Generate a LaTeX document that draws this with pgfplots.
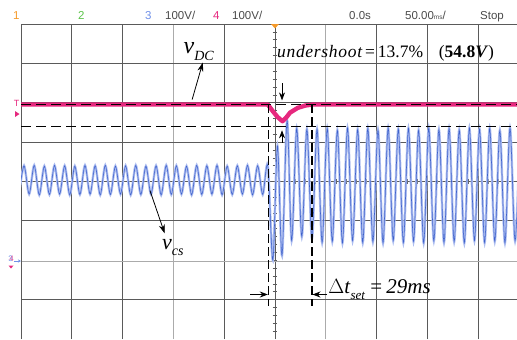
\documentclass[border=0pt]{standalone}
\usepackage{pgfplots}
\pgfplotsset{compat=1.18}
\usepackage{fontspec}
\setmainfont{Liberation Serif}
\setsansfont{Liberation Sans}
\usetikzlibrary{arrows.meta}
\definecolor{gridd}{HTML}{5A5A5A}
\definecolor{gridl}{HTML}{ABABAB}
\definecolor{pinkc}{HTML}{E6287E}
\definecolor{bluedark}{HTML}{3F62CC}
\definecolor{bluelight}{HTML}{AEBEF0}
\definecolor{orangec}{HTML}{F59A2A}
\definecolor{greenc}{HTML}{5CC44A}
\definecolor{blue3}{HTML}{7090E8}
\definecolor{txtg}{HTML}{4A4A4A}
\begin{document}
\begin{tikzpicture}[x=1bp,y=1bp]
\path[use as bounding box] (-21,0) rectangle (496,339);
\begin{axis}[at={(0,0)}, anchor=south west, scale only axis,
  width=496bp, height=315bp, xmin=-5, xmax=4.768, ymin=-4, ymax=4,
  axis lines=none, ticks=none, clip=true]
% grid
\pgfplotsinvokeforeach{-4,-3,-1,0,2,3,4}{\draw[gridd, line width=0.8bp] (axis cs:#1,-4) -- (axis cs:#1,4);}
\pgfplotsinvokeforeach{-2,1}{\draw[gridl, line width=1.6bp] (axis cs:#1,-4) -- (axis cs:#1,4);}
\pgfplotsinvokeforeach{-3,-1,0,1,2,3}{\draw[gridd, line width=0.8bp] (axis cs:-5,#1) -- (axis cs:4.8,#1);}
\draw[gridl, line width=1.6bp] (axis cs:-5,-2.03) -- (axis cs:4.8,-2.03);
\draw[gridd, line width=1bp] (axis cs:-5,3.985) -- (axis cs:4.8,3.985);
\draw[gridd, line width=1bp] (axis cs:-4.99,-4) -- (axis cs:-4.99,4);
\pgfplotsinvokeforeach{-3.8,-3.6,...,3.8}{\draw[gridd, line width=0.6bp] (axis cs:-0.045,#1) -- (axis cs:0.045,#1);}
\pgfplotsinvokeforeach{-4.8,-4.6,...,4.6}{\draw[gridd, line width=0.6bp] (axis cs:#1,-0.06) -- (axis cs:#1,0.06);}
% blue v_cs trace
\pgfplotstableread{
x y
-5.04 -0.33
-4.94 0.40
-4.84 -0.32
-4.74 0.41
-4.64 -0.34
-4.54 0.39
-4.44 -0.33
-4.34 0.41
-4.24 -0.32
-4.14 0.40
-4.04 -0.34
-3.94 0.39
-3.84 -0.33
-3.74 0.41
-3.64 -0.32
-3.54 0.40
-3.44 -0.34
-3.34 0.41
-3.24 -0.33
-3.14 0.39
-3.04 -0.32
-2.94 0.40
-2.84 -0.34
-2.74 0.41
-2.64 -0.33
-2.54 0.39
-2.44 -0.32
-2.34 0.40
-2.24 -0.34
-2.14 0.41
-2.04 -0.33
-1.94 0.40
-1.84 -0.32
-1.74 0.39
-1.64 -0.34
-1.54 0.41
-1.44 -0.33
-1.34 0.40
-1.24 -0.32
-1.14 0.41
-1.04 -0.34
-0.94 0.39
-0.84 -0.33
-0.74 0.40
-0.64 -0.32
-0.54 0.41
-0.44 -0.34
-0.34 0.40
-0.24 -0.33
-0.14 0.40
-0.04 -2.00
0.05 0.90
0.14 -1.88
0.24 1.55
0.33 -1.50
0.43 1.35
0.53 -1.40
0.63 1.33
0.73 -1.45
0.83 1.33
0.93 -1.55
1.03 1.35
1.13 -1.52
1.23 1.30
1.33 -1.56
1.43 1.36
1.53 -1.50
1.63 1.32
1.73 -1.55
1.83 1.35
1.93 -1.53
2.03 1.31
2.13 -1.56
2.23 1.36
2.33 -1.50
2.43 1.33
2.53 -1.55
2.63 1.35
2.73 -1.52
2.83 1.30
2.93 -1.56
3.03 1.36
3.13 -1.51
3.23 1.32
3.33 -1.55
3.43 1.35
3.53 -1.53
3.63 1.31
3.73 -1.56
3.83 1.36
3.93 -1.50
4.03 1.33
4.13 -1.55
4.23 1.35
4.33 -1.52
4.43 1.30
4.53 -1.56
4.63 1.36
4.73 -1.51
4.83 1.32
}\vcs
\addplot[bluelight, line width=2.4bp, smooth] table[x=x,y=y] {\vcs};
\addplot[bluedark, line width=0.55bp, smooth] table[x=x,y=y] {\vcs};
% pink v_DC trace
\addplot[pinkc, line width=4.4bp, line join=round] coordinates {
(-5.1,1.956) (-0.14,1.956) (-0.05,1.80) (0.05,1.64) (0.15,1.53) (0.22,1.62) (0.30,1.75) (0.45,1.87) (0.60,1.93) (0.75,1.956) (4.9,1.956)};
% dashed reference lines
\addplot[black, line width=1.5bp, dash pattern=on 10bp off 5bp] coordinates {(-5,1.956) (4.9,1.956)};
\addplot[black, line width=1.5bp, dash pattern=on 10bp off 5bp] coordinates {(-5,1.40) (4.9,1.40)};
\addplot[black, line width=1.4bp, dash pattern=on 9bp off 4bp] coordinates {(-0.13,1.956) (-0.13,-3.17)};
\addplot[black, line width=1.4bp, dash pattern=on 9bp off 4bp] coordinates {(0.73,1.956) (0.73,-3.17)};
% arrows
\draw[black, line width=0.8bp, -{Stealth[length=9bp,width=6bp]}] (axis cs:-1.63,2.08) -- (axis cs:-1.42,3.02);
\draw[black, line width=0.8bp, -{Stealth[length=9bp,width=6bp]}] (axis cs:-2.46,-0.23) -- (axis cs:-2.17,-1.32);
\draw[black, line width=0.8bp, -{Stealth[length=8bp,width=6bp]}] (axis cs:0.14,2.49) -- (axis cs:0.14,2.06);
\draw[black, line width=0.8bp, -{Stealth[length=8bp,width=6bp]}] (axis cs:0.14,0.99) -- (axis cs:0.14,1.30);
\draw[black, line width=0.8bp, -{Stealth[length=8bp,width=6bp]}] (axis cs:-0.49,-2.87) -- (axis cs:-0.14,-2.87);
\draw[black, line width=0.8bp, -{Stealth[length=8bp,width=6bp]}] (axis cs:1.03,-2.87) -- (axis cs:0.74,-2.87);
% labels
\node[inner sep=0] at (axis cs:-1.50,3.30) {\fontsize{24bp}{24bp}\selectfont\itshape v\raisebox{-0.3em}{\fontsize{14bp}{14bp}\selectfont DC}};
\node[inner sep=0] at (axis cs:-2.01,-1.68) {\fontsize{22bp}{22bp}\selectfont\itshape v\raisebox{-0.3em}{\fontsize{14bp}{14bp}\selectfont cs}};
\node[inner sep=0, anchor=base west] at (axis cs:0.04,3.15) {\fontsize{17.5bp}{17.5bp}\selectfont{\itshape\addfontfeatures{LetterSpace=4}undershoot}\,=\,13.7\%\hspace{0.9em}(\textbf{54.8\textit{V}})};
\node[inner sep=0, anchor=base west] at (axis cs:1.05,-2.84) {\fontsize{21bp}{21bp}\selectfont $\Delta$\textit{t}\raisebox{-0.3em}{\fontsize{13bp}{13bp}\selectfont\itshape set}\hspace{0.25em}=\hspace{0.2em}\textit{29ms}};
\end{axis}
% header
\begin{scope}[every node/.style={inner sep=0, anchor=base west, font=\sffamily\fontsize{11.5bp}{12bp}\selectfont}]
\node[text=orangec] at (-8,320) {1};
\node[text=greenc] at (57,320) {2};
\node[text=blue3] at (124,320) {3};
\node[text=txtg] at (144,320) {100V/};
\node[text=pinkc] at (192,320) {4};
\node[text=txtg] at (211,320) {100V/};
\node[text=txtg] at (328,320) {0.0s};
\node[text=txtg] at (384,320) {50.00{\fontsize{6.5bp}{7bp}\selectfont ms}/};
\node[text=txtg] at (459,320) {Stop};
\end{scope}
\fill[orangec] (250,315) -- (258,315) -- (254,310.5) -- cycle;
% left markers
\node[text=pinkc, inner sep=0, font=\sffamily\fontsize{9bp}{9bp}\selectfont] at (-4.5,235.5) {T};
\fill[pinkc] (-6,228) -- (-6,222) -- (-1.5,225) -- cycle;
\node[text=blue3, inner sep=0, font=\sffamily\fontsize{8bp}{8bp}\selectfont] at (-10.5,80) {3};
\node[text=pinkc, inner sep=0, font=\sffamily\fontsize{8bp}{8bp}\selectfont, opacity=0.7] at (-9.5,80) {4};
\draw[blue3, line width=0.8bp, -{Stealth[length=3bp,width=3bp]}] (-7,78) -- (0,78);
\fill[pinkc] (-12.5,73.5) -- (-7.5,73.5) -- (-10,70.5) -- cycle;
\end{tikzpicture}
\end{document}
